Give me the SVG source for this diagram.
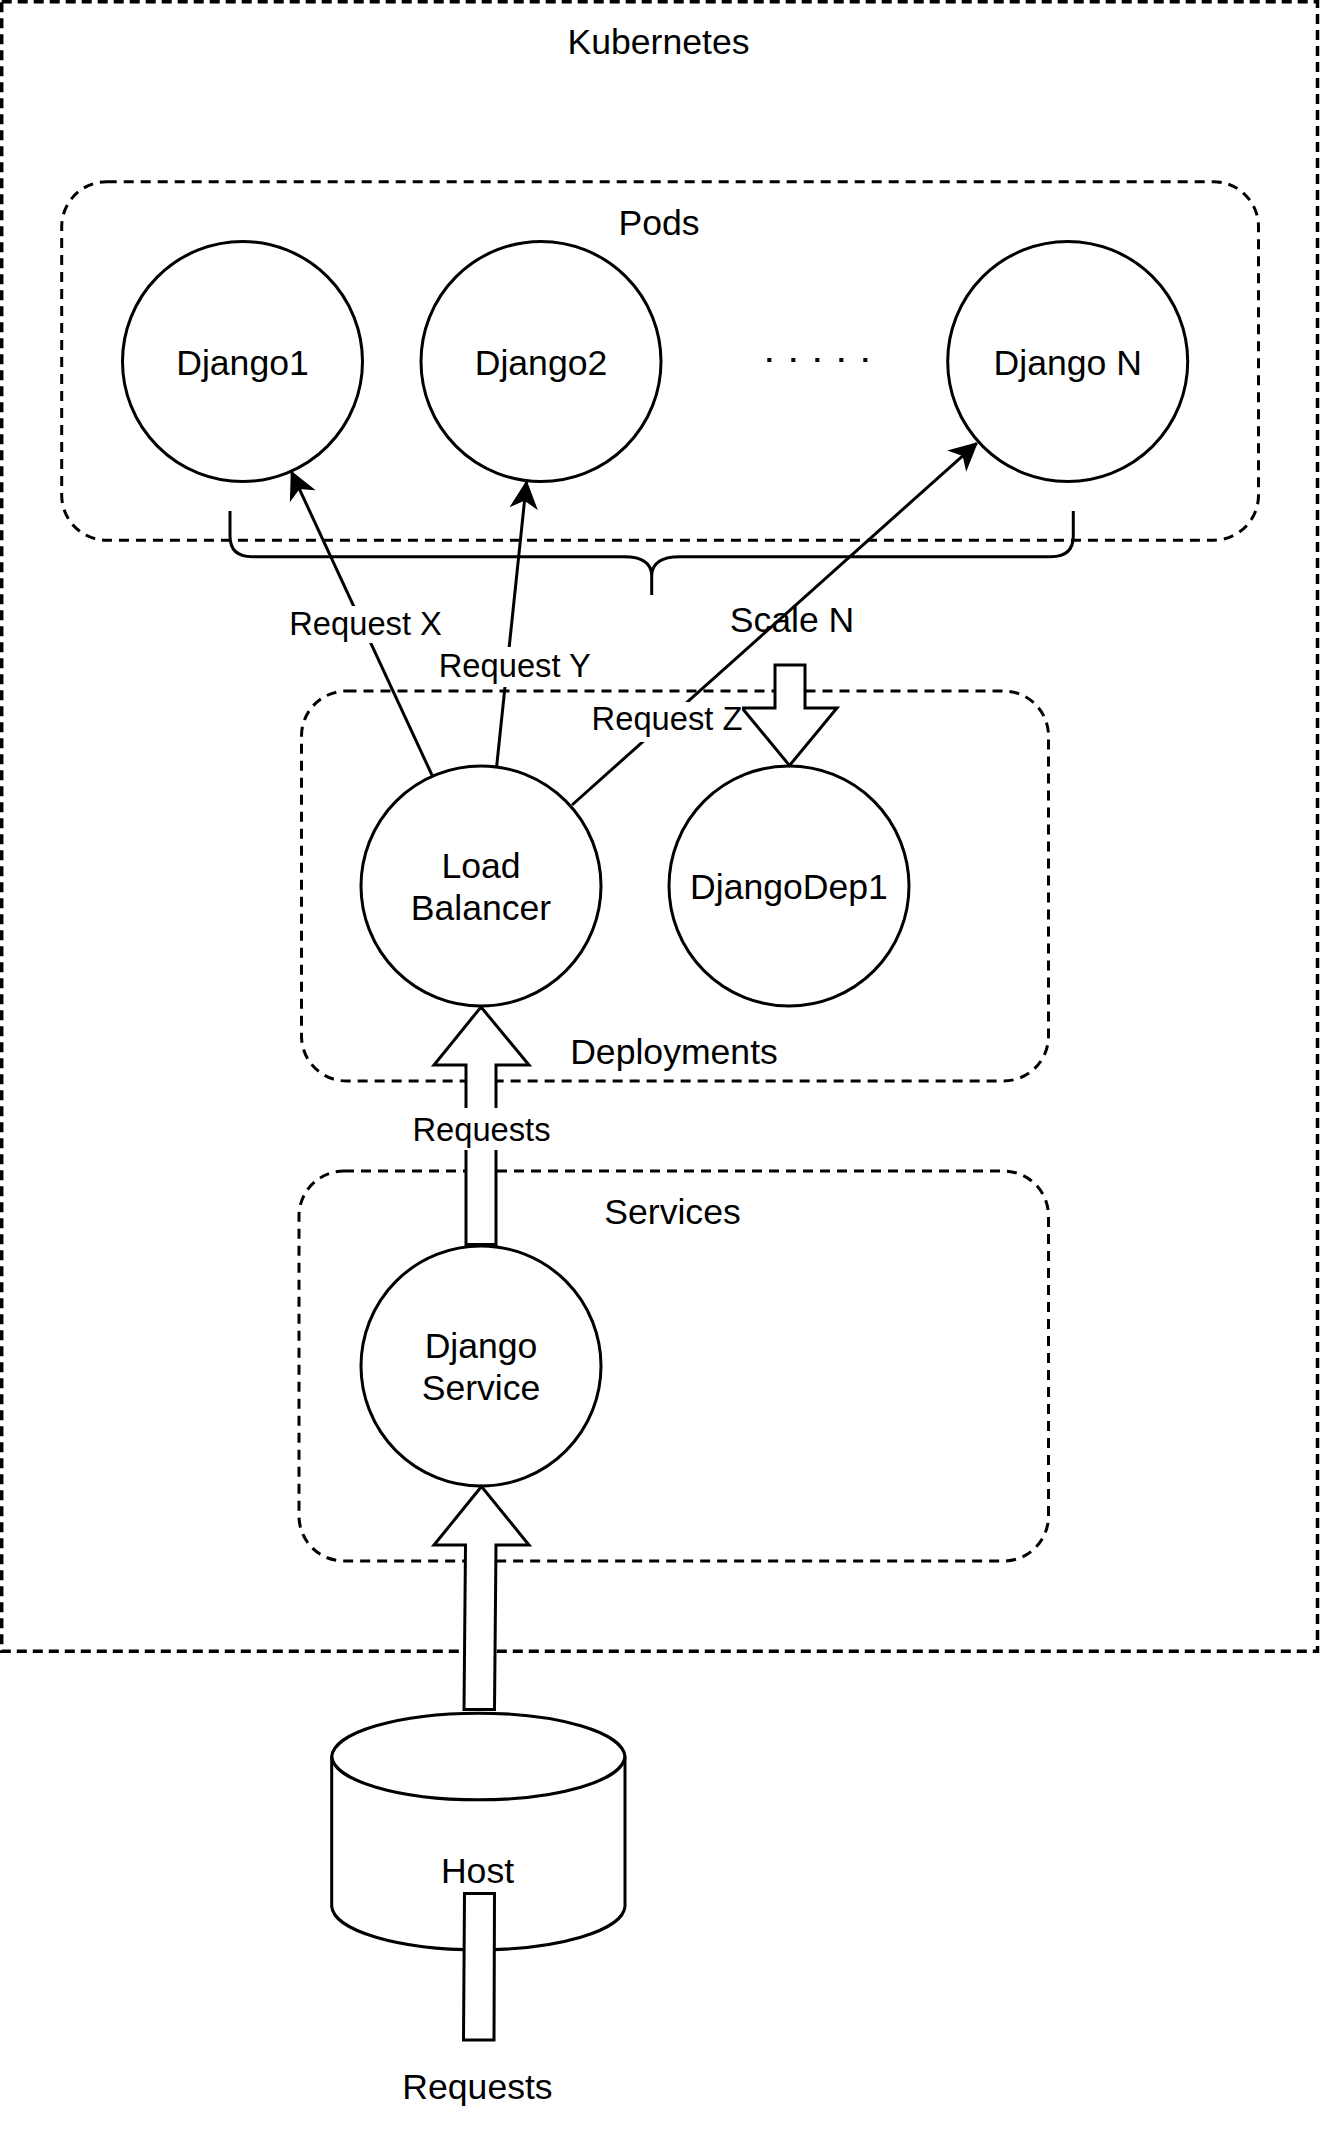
<svg xmlns="http://www.w3.org/2000/svg" width="1320" height="2133" viewBox="0 0 1320 2133">
<style>
text{font-family:"Liberation Sans",Arial,Helvetica,sans-serif;fill:#000;text-anchor:middle}
.n{font-size:35.6px}
.e{font-size:32.7px}
.box{fill:none;stroke:#000;stroke-width:3;stroke-dasharray:10 7}
.outer{fill:none;stroke:#000;stroke-width:3.5;stroke-dasharray:10 6}
.c{fill:#fff;stroke:#000;stroke-width:3}
.ln{fill:none;stroke:#000;stroke-width:3}
.fa{fill:#fff;stroke:#000;stroke-width:3;stroke-linejoin:miter}
.bg{fill:#fff}
</style>
<defs>
<marker id="arr" viewBox="-27 -15 29 30" refX="0" refY="0" markerWidth="29" markerHeight="30" markerUnits="userSpaceOnUse" orient="auto">
<path d="M0,0 L-25,-12.5 L-18,0 L-25,12.5 Z" fill="#000" stroke="#000" stroke-width="1.5" stroke-linejoin="miter"/>
</marker>
</defs>
<rect width="1320" height="2133" fill="#fff"/>
<g id="kubernetes">
<rect class="outer" x="1.7" y="1.7" width="1315.8" height="1649.5"/>
<text class="n" x="658.5" y="54">Kubernetes</text>
</g>
<g id="pods">
<rect class="box" x="61.7" y="181.7" width="1196.8" height="358.5" rx="45" ry="45"/>
<text class="n" x="659" y="234.5">Pods</text>
</g>
<g id="deployments">
<rect class="box" x="301.5" y="691" width="747" height="390" rx="45" ry="45"/>
<text class="n" x="674" y="1064">Deployments</text>
</g>
<g id="services">
<rect class="box" x="299" y="1171" width="749.5" height="390" rx="45" ry="45"/>
<text class="n" x="672.5" y="1224">Services</text>
</g>
<g id="django1">
<circle class="c" cx="242.5" cy="361.5" r="120"/>
<text class="n" x="242.5" y="374.5">Django1</text>
</g>
<g id="django2">
<circle class="c" cx="541" cy="361.5" r="120"/>
<text class="n" x="541" y="374.5">Django2</text>
</g>
<g id="ellipsis">
<line x1="767.3" y1="360" x2="869" y2="360" stroke="#000" stroke-width="4" stroke-dasharray="4 20"/>
</g>
<g id="djangoN">
<circle class="c" cx="1067.7" cy="361.5" r="120"/>
<text class="n" x="1067.7" y="374.5">Django N</text>
</g>
<g id="scale-brace">
<path class="ln" d="M230,511 L230,536 Q230,556.7 252,556.7 L624,556.7 Q651.7,556.7 651.7,576 L651.7,595 M651.7,576 Q651.7,556.7 680,556.7 L1051,556.7 Q1073.3,556.7 1073.3,536 L1073.3,511"/>
<text class="n" x="792" y="631.7">Scale N</text>
</g>
<g id="loadbalancer">
<circle class="c" cx="481" cy="886" r="120"/>
<text class="n" x="481" y="877.5">Load</text>
<text class="n" x="481" y="920">Balancer</text>
</g>
<g id="djangodep1">
<circle class="c" cx="789" cy="886" r="120"/>
<text class="n" x="789" y="899">DjangoDep1</text>
</g>
<g id="djangoservice">
<circle class="c" cx="481" cy="1366" r="120"/>
<text class="n" x="481" y="1357.5">Django</text>
<text class="n" x="481" y="1400">Service</text>
</g>
<g id="host">
<path class="c" d="M331.7,1756.5 A146.7,44.5 0 0 1 625,1756.5 L625,1906.5 A146.7,44.5 0 0 1 331.7,1906.5 Z"/>
<path class="ln" d="M331.7,1756.5 A146.7,44.5 0 0 0 625,1756.5"/>
<text class="n" x="477.5" y="1883">Host</text>
</g>
<g id="connectors">
<polygon class="fa" points="775,665 805,665 805,708 837,708 789.5,765.5 742,708 775,708"/>
<line class="ln" x1="432.4" y1="776" x2="291.5" y2="472" marker-end="url(#arr)"/>
<line class="ln" x1="496.7" y1="766" x2="526.5" y2="482" marker-end="url(#arr)"/>
<line class="ln" x1="572" y1="805" x2="976.7" y2="443.3" marker-end="url(#arr)"/>
<rect class="bg" x="289" y="606" width="153" height="37"/>
<text class="e" x="365.6" y="635">Request X</text>
<rect class="bg" x="439" y="647" width="152" height="40"/>
<text class="e" x="514.8" y="676.7">Request Y</text>
<rect class="bg" x="591" y="702" width="151" height="40"/>
<text class="e" x="667" y="730">Request Z</text>
<polygon class="fa" points="481,1007 529,1065 496,1065 496,1244.5 466,1244.5 466,1065 434,1065"/>
<rect class="bg" x="412" y="1108" width="139" height="42"/>
<text class="e" x="481.5" y="1140.8">Requests</text>
<polygon class="fa" points="481.5,1486.5 529,1545 496,1545 494.5,1709.5 464,1709.5 465.5,1545 434,1545"/>
<polygon class="fa" points="464.5,1893.5 494.5,1893.5 494,2040 463.5,2040"/>
</g>
<g id="requests-source">
<text class="n" x="477.5" y="2099">Requests</text>
</g>
</svg>
